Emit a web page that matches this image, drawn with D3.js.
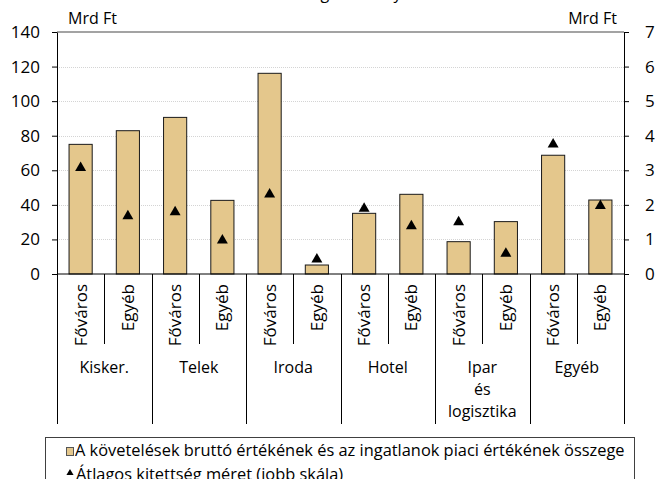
<!doctype HTML>
<html lang="hu">
<head>
<meta charset="utf-8">
<title>Kitettség típus és régió szerint</title>
<script src="https://d3js.org/d3.v7.min.js"></script>
<style type="text/css">
  body { margin: 0; background: #fff; }
  svg text {
	font-family: "Open Sans", "Noto Sans", sans-serif;
	fill: #000;
  }
  .axis path { stroke: #000; }
  .axis line { stroke: #000; }
  .axis text { font-size: 17px; }
</style>
</head>
<body>
<script type="text/javascript">

// chart values
var groupLabels = [["Kisker."], ["Telek"], ["Iroda"], ["Hotel"], ["Ipar", "és", "logisztika"], ["Egyéb"]];
var regionLabels = ["Főváros", "Egyéb"];
var grossValues = [75.0, 82.9, 90.6, 42.6, 116.1, 5.2, 35.1, 46.1, 18.7, 30.3, 68.7, 42.8];   // Mrd Ft, left scale
var avgExposure = [3.12, 1.72, 1.84, 1.02, 2.35, 0.47, 1.94, 1.43, 1.55, 0.64, 3.80, 2.02];   // Mrd Ft, right scale
var leftTicks = [0, 20, 40, 60, 80, 100, 120, 140];
var rightTicks = [0, 1, 2, 3, 4, 5, 6, 7];
var unitLabel = "Mrd Ft";
var legendLabels = ["A követelések bruttó értékének és az ingatlanok piaci értékének összege",
                    "Átlagos kitettség méret (jobb skála)"];
var titleText = "Kitettség állomány";

var W = 657, H = 479;
var margin = {top: 32, right: 33, bottom: 205, left: 57},
    width = W - margin.left - margin.right,
    height = H - margin.top - margin.bottom;

// one entry per bar
var bars = [];
groupLabels.forEach(function(g, gi) {
	regionLabels.forEach(function(r, ri) {
		var i = gi * regionLabels.length + ri;
		bars.push({key: i, group: gi, region: r, value: grossValues[i], avg: avgExposure[i]});
	});
});

var svg = d3.select("body").append("svg")
	.attr("width", W)
	.attr("height", H);

// title, almost entirely above the picture's top edge as in the original
svg.append("text")
	.attr("x", 264)
	.attr("y", -1)
	.attr("font-size", 16)
	.text(titleText);

var chart = svg.append("g")
	.attr("transform", "translate(" + margin.left + "," + margin.top + ")");

var x = d3.scaleBand()
	.domain(bars.map(function(d) { return d.key; }))
	.range([0, width])
	.paddingInner(0.51)
	.paddingOuter(0.255);

var xGroup = d3.scaleBand()
	.domain(d3.range(groupLabels.length))
	.range([0, width]);

var y = d3.scaleLinear().domain([0, 140]).range([height, 0]);
var y2 = d3.scaleLinear().domain([0, 7]).range([height, 0]);

// gridlines
chart.append("g")
	.selectAll("line")
	.data(leftTicks.filter(function(t) { return t > 0 && t < 140; }))
	.enter().append("line")
	.attr("x1", 0).attr("x2", width)
	.attr("y1", function(d) { return Math.round(y(d)) + 0.5; })
	.attr("y2", function(d) { return Math.round(y(d)) + 0.5; })
	.attr("stroke", "#d4d4d4")
	.attr("stroke-dasharray", "1,1");

// top border
chart.append("line")
	.attr("x1", 0).attr("x2", width)
	.attr("y1", y(140)).attr("y2", y(140))
	.attr("stroke", "#858585")
	.attr("stroke-width", 1.5);

// bars
chart.append("g")
	.selectAll("rect")
	.data(bars)
	.enter().append("rect")
	.attr("x", function(d) { return x(d.key); })
	.attr("y", function(d) { return y(d.value); })
	.attr("width", x.bandwidth())
	.attr("height", function(d) { return height - y(d.value); })
	.attr("fill", "#e4c78c")
	.attr("stroke", "#1a1a1a")
	.attr("stroke-width", 1);

// triangles on the right scale
var tri = d3.symbol().type(d3.symbolTriangle).size(52);
chart.append("g")
	.selectAll("path")
	.data(bars)
	.enter().append("path")
	.attr("d", tri)
	.attr("transform", function(d) {
		return "translate(" + (x(d.key) + x.bandwidth() / 2) + "," + (y2(d.avg) + 1.6) + ")";
	})
	.attr("fill", "#000");

// left axis
chart.append("g")
	.attr("class", "axis")
	.call(d3.axisLeft(y).tickValues(leftTicks).tickSize(5).tickPadding(12).tickSizeOuter(0));

// right axis
chart.append("g")
	.attr("class", "axis")
	.attr("transform", "translate(" + width + ",0)")
	.call(d3.axisRight(y2).tickValues(rightTicks).tickFormat(d3.format("d"))
		.tickSize(5).tickPadding(16).tickSizeOuter(0));

// x axis line
chart.append("line")
	.attr("x1", 0).attr("x2", width)
	.attr("y1", height).attr("y2", height)
	.attr("stroke", "#000");

// separators between bars (short) and groups (long)
var step = width / bars.length;
var sep = chart.append("g");
d3.range(bars.length + 1).forEach(function(i) {
	var isGroup = i % regionLabels.length === 0;
	sep.append("line")
		.attr("x1", Math.round(i * step) + 0.5)
		.attr("x2", Math.round(i * step) + 0.5)
		.attr("y1", height)
		.attr("y2", height + (isGroup ? 150 : 70))
		.attr("stroke", "#000");
});

// rotated region labels
chart.append("g")
	.selectAll("text")
	.data(bars)
	.enter().append("text")
	.attr("transform", function(d) {
		return "translate(" + (x(d.key) + x.bandwidth() / 2 + 6) + "," + (height + 10) + ") rotate(-90)";
	})
	.attr("text-anchor", "end")
	.attr("font-size", 17)
	.text(function(d) { return d.region; });

// group labels
var gl = chart.append("g")
	.selectAll("text")
	.data(groupLabels)
	.enter().append("text")
	.attr("text-anchor", "middle")
	.attr("font-size", 16);
gl.each(function(lines, gi) {
	var t = d3.select(this);
	lines.forEach(function(line, li) {
		t.append("tspan")
			.attr("x", xGroup(gi) + xGroup.bandwidth() / 2)
			.attr("y", height + 99 + li * 22)
			.text(line);
	});
});

// unit labels
svg.append("text")
	.attr("x", 68).attr("y", 24)
	.attr("font-size", 16)
	.text(unitLabel);
svg.append("text")
	.attr("x", 617).attr("y", 24)
	.attr("text-anchor", "end")
	.attr("font-size", 16)
	.text(unitLabel);

// legend
var legend = svg.append("g");
legend.append("rect")
	.attr("x", 45.5).attr("y", 437.5)
	.attr("width", 589).attr("height", 60)
	.attr("fill", "#fff")
	.attr("stroke", "#404040");
legend.append("rect")
	.attr("x", 66.5).attr("y", 447.5)
	.attr("width", 7).attr("height", 8)
	.attr("fill", "#e4c78c")
	.attr("stroke", "#555");
legend.append("path")
	.attr("d", d3.symbol().type(d3.symbolTriangle).size(22))
	.attr("transform", "translate(70,473)")
	.attr("fill", "#000");
legend.selectAll("text.lab")
	.data(legendLabels)
	.enter().append("text")
	.attr("class", "lab")
	.attr("x", function(d, i) { return i === 0 ? 75 : 76; })
	.attr("y", function(d, i) { return 456 + i * 23.5; })
	.attr("font-size", 16.4)
	.text(function(d) { return d; });

</script>
</body>
</html>
